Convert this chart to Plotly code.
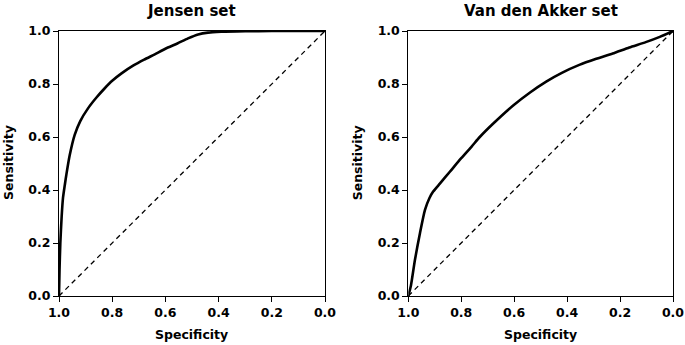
import plotly.graph_objects as go

# Jensen set ROC curve (specificity, sensitivity)
jensen_spec = [1.0, 0.998, 0.995, 0.99, 0.985, 0.978, 0.972, 0.96, 0.941, 0.92, 0.891, 0.86,
               0.828, 0.80, 0.765, 0.72, 0.68, 0.64, 0.60, 0.555, 0.515, 0.477, 0.44, 0.39,
               0.30, 0.20, 0.10, 0.0]
jensen_sens = [0.0, 0.1, 0.2, 0.3, 0.37, 0.42, 0.46, 0.53, 0.608, 0.66, 0.708, 0.748,
               0.784, 0.812, 0.84, 0.87, 0.892, 0.912, 0.933, 0.953, 0.972, 0.987, 0.994, 0.997,
               0.999, 1.0, 1.0, 1.0]

# Van den Akker set ROC curve
akker_spec = [1.0, 0.99, 0.975, 0.956, 0.937, 0.92, 0.906, 0.88, 0.843, 0.80, 0.76, 0.73,
              0.68, 0.605, 0.54, 0.479, 0.42, 0.354, 0.29, 0.228, 0.165, 0.103, 0.05, 0.0]
akker_sens = [0.0, 0.04, 0.136, 0.237, 0.325, 0.37, 0.394, 0.425, 0.469, 0.52, 0.565, 0.60,
              0.65, 0.718, 0.768, 0.809, 0.842, 0.872, 0.895, 0.915, 0.938, 0.958, 0.978, 1.0]

ref_spec = [1.0, 0.0]
ref_sens = [0.0, 1.0]

tick_vals = [0.0, 0.2, 0.4, 0.6, 0.8, 1.0]
tick_text = ["0.0", "0.2", "0.4", "0.6", "0.8", "1.0"]
titles = ["Jensen set", "Van den Akker set"]

FONT = "DejaVu Sans, Liberation Sans, Arial, sans-serif"
W, H = 685, 345

fig = go.Figure()
panels = [(jensen_spec, jensen_sens, "x", "y"), (akker_spec, akker_sens, "x2", "y2")]
for spec, sens, xa, ya in panels:
    fig.add_trace(go.Scatter(x=ref_spec, y=ref_sens, mode="lines", xaxis=xa, yaxis=ya,
                             line=dict(color="black", width=1.3, dash="5px,4px"),
                             showlegend=False, hoverinfo="skip"))
    fig.add_trace(go.Scatter(x=spec, y=sens, mode="lines", xaxis=xa, yaxis=ya,
                             line=dict(color="black", width=2.6, shape="spline", smoothing=0.6),
                             showlegend=False))

x_domains = [[59 / W, 325 / W], [408.3 / W, 673 / W]]
y_domain = [(H - 296) / H, (H - 31) / H]

axis_common = dict(showline=True, linecolor="black", linewidth=1, mirror=True,
                   ticks="outside", ticklen=5, tickwidth=1, tickcolor="black",
                   showgrid=False, zeroline=False, tickvals=tick_vals, ticktext=tick_text,
                   automargin=False,
                   tickfont=dict(family=FONT, size=12.5, color="black", weight="bold"))

layout = dict(width=W, height=H, margin=dict(l=0, r=0, t=0, b=0, pad=0),
              plot_bgcolor="white", paper_bgcolor="white", showlegend=False)
for i, xd in enumerate(x_domains):
    sx = "" if i == 0 else str(i + 1)
    layout["xaxis" + sx] = dict(domain=xd, range=[1.0, 0.0], anchor="y" + sx, **axis_common)
    layout["yaxis" + sx] = dict(domain=y_domain, range=[0.0, 1.0], anchor="x" + sx, **axis_common)
fig.update_layout(**layout)

annotations = []
for i, xd in enumerate(x_domains):
    cx = (xd[0] + xd[1]) / 2
    annotations.append(dict(text=titles[i], x=cx, y=1 - 10.5 / H, xref="paper", yref="paper",
                            showarrow=False, xanchor="center", yanchor="middle",
                            font=dict(family=FONT, size=15, color="black", weight="bold")))
    annotations.append(dict(text="Specificity", x=cx, y=1 - 334 / H, xref="paper", yref="paper",
                            showarrow=False, xanchor="center", yanchor="middle",
                            font=dict(family=FONT, size=12.5, color="black", weight="bold")))
    annotations.append(dict(text="Sensitivity", x=(xd[0] * W - 51) / W, y=1 - 163 / H,
                            xref="paper", yref="paper", textangle=-90,
                            showarrow=False, xanchor="center", yanchor="middle",
                            font=dict(family=FONT, size=12.5, color="black", weight="bold")))
fig.update_layout(annotations=annotations)

fig.write_html("out.html", config={"displayModeBar": False},
               post_script="document.body.style.margin='0';document.body.style.overflow='hidden';")
